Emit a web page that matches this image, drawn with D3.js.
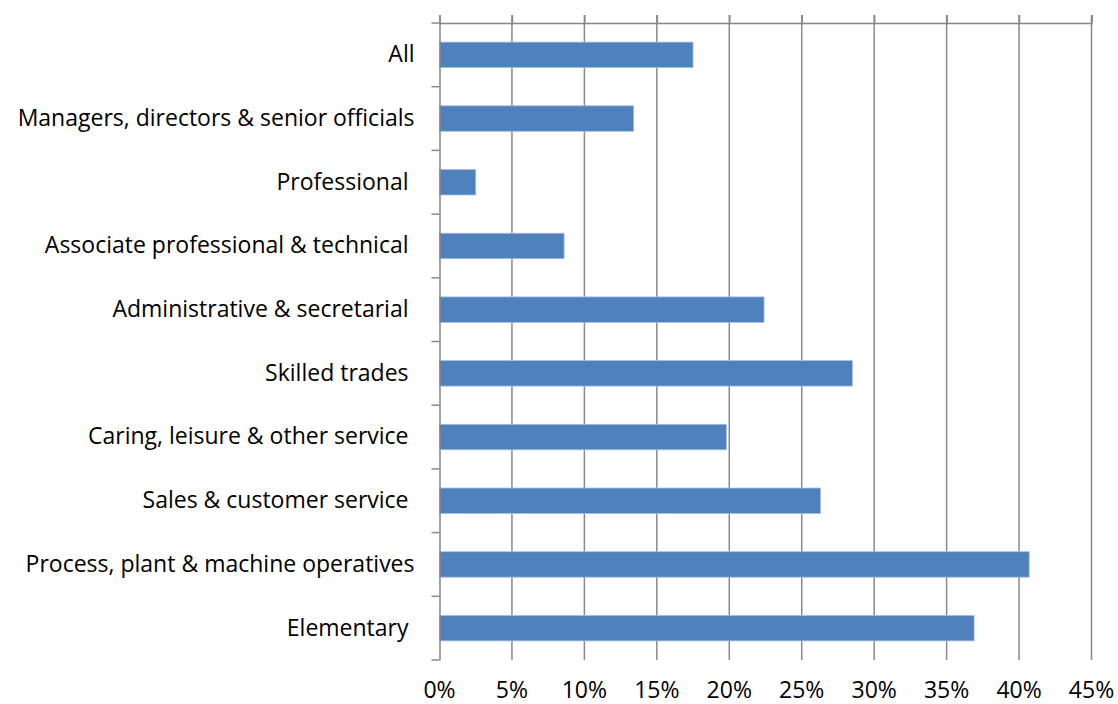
<!DOCTYPE html>
<html>
<head>
<meta charset="utf-8">
<script src="https://cdn.jsdelivr.net/npm/d3@7"></script>
<style>
  body { margin: 0; background: #fff; }
  text { font-family: "Open Sans", Lato, sans-serif; fill: #000; white-space: pre; }
</style>
</head>
<body>
<svg width="1118" height="704"></svg>
<script>
var categories = ["All", "Managers, directors & senior officials", "Professional ", "Associate professional & technical ",
  "Administrative & secretarial ", "Skilled trades ", "Caring, leisure & other service ", "Sales & customer service ",
  "Process, plant & machine operatives", "Elementary "];
var values = [0.175, 0.134, 0.025, 0.086, 0.224, 0.285, 0.198, 0.263, 0.407, 0.369];
var tickValues = [0, 0.05, 0.10, 0.15, 0.20, 0.25, 0.30, 0.35, 0.40, 0.45];

var svg = d3.select('svg');
var top_ = 23, bottom = 660, left = 439.5, right = 1091.5;
var fontSize = 23;

var x = d3.scaleLinear().domain([0, 0.45]).range([left, right]);
var y = d3.scaleBand().domain(categories).range([top_, bottom]).paddingInner(0.6).paddingOuter(0.3);

// vertical gridlines
svg.append('g').selectAll('line').data(tickValues.slice(1))
  .enter().append('line')
  .attr('x1', function(d) { return x(d); })
  .attr('x2', function(d) { return x(d); })
  .attr('y1', top_ - 8)
  .attr('y2', bottom)
  .attr('stroke', '#898989')
  .attr('stroke-width', 1.5);

// top axis line + ticks
var topAxis = svg.append('g').attr('transform', 'translate(0,' + top_ + ')')
  .call(d3.axisTop(x).tickValues(tickValues).tickSize(8).tickFormat(''));
topAxis.select('.domain').attr('stroke', '#868686').attr('stroke-width', 1.5);
topAxis.selectAll('.tick line').attr('stroke', '#898989').attr('stroke-width', 1.5);

// bars
svg.append('g').selectAll('rect').data(values)
  .enter().append('rect')
  .attr('x', x(0))
  .attr('y', function(d, i) { return y(categories[i]); })
  .attr('width', function(d) { return x(d) - x(0); })
  .attr('height', y.bandwidth())
  .attr('fill', '#4F81BD')
  .attr('stroke', '#A7C0E2')
  .attr('stroke-width', 0.8);

// left axis with ticks at category boundaries
var leftAxis = svg.append('g').attr('transform', 'translate(' + left + ',0)')
  .call(d3.axisLeft(y).tickSize(0).tickPadding(25));
leftAxis.select('.domain').attr('stroke', '#868686').attr('stroke-width', 1.5);
leftAxis.selectAll('text').attr('font-size', fontSize).attr('font-family', '"Open Sans", sans-serif').attr('fill', '#000');

var bounds = d3.range(categories.length + 1).map(function(i) { return top_ + i * y.step(); });
svg.append('g').selectAll('line').data(bounds)
  .enter().append('line')
  .attr('x1', left - 8)
  .attr('x2', left)
  .attr('y1', function(d) { return d; })
  .attr('y2', function(d) { return d; })
  .attr('stroke', '#898989')
  .attr('stroke-width', 1.5);

// bottom tick labels
var fmt = d3.format('.0%');
svg.append('g').selectAll('text').data(tickValues)
  .enter().append('text')
  .attr('x', function(d) { return x(d); })
  .attr('y', 698)
  .attr('text-anchor', 'middle')
  .attr('font-size', fontSize)
  .text(function(d) { return fmt(d); });
</script>
</body>
</html>
